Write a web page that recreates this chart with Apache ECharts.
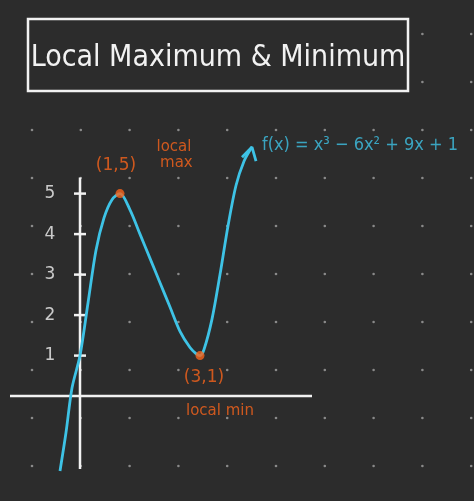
<!DOCTYPE html>
<html><head><meta charset="utf-8">
<script src="https://cdn.jsdelivr.net/npm/echarts@6/dist/echarts.min.js"></script>
<style>html,body{margin:0;background:#2c2c2c}#c{width:474px;height:501px}</style>
</head><body><div id="c"></div>
<script>
const curveX = [-0.5,-0.35,-0.2,0,0.2,0.4,0.6,0.8,1,1.25,1.5,1.75,2,2.25,2.5,2.75,2.9,3,3.1,3.3,3.5,3.7,3.9,4.1,4.3];
const curveY = [-1.85,-0.9,0.2,1,2.3,3.6,4.4,4.85,5,4.6,4.0,3.4,2.8,2.2,1.6,1.2,1.05,1,1.15,1.9,3.0,4.2,5.2,5.8,6.15];
const maxPt = [1,5];
const minPt = [3,1];
const yTicks = [1,2,3,4,5];
const title = 'Local Maximum & Minimum';
const formula = 'f(x) = x³ − 6x² + 9x + 1';

const chart = echarts.init(document.getElementById('c'));
const white = '#f2f2f2', blue = '#3ec3e6', orange = '#f7641c';
const dots = [];
for (let gx = 32; gx < 474; gx += 48.8) for (let gy = 34; gy < 501; gy += 48) dots.push({type:'circle',shape:{cx:gx,cy:gy,r:1.3},style:{fill:'#8a8a8a'},z:0});
chart.setOption({
  backgroundColor:'#2c2c2c',
  animation:false,
  grid:{left:0,right:0,top:0,bottom:0},
  xAxis:{type:'value',min:-2,max:9.85,show:false},
  yAxis:{type:'value',min:-2.59,max:9.78,show:false},
  graphic:[...dots,
    {type:'rect',shape:{x:28,y:19,width:380,height:72},style:{fill:'#2c2c2c',stroke:white,lineWidth:2.5},z:5},
    {type:'text',x:218,y:58,style:{text:title,fill:white,font:'30px "DejaVu Sans Condensed", sans-serif',align:'center',verticalAlign:'middle'},z:6}
  ],
  series:[
    {type:'line',data:[[-1.75,0],[5.8,0]],symbol:'none',lineStyle:{color:white,width:2.5},z:2},
    {type:'line',data:[[0,-1.8],[0,5.4]],symbol:'none',lineStyle:{color:white,width:2.5},z:2},
    ...yTicks.map(t=>({type:'line',data:[[-0.15,t],[0.15,t]],symbol:'none',lineStyle:{color:white,width:2.5},z:2})),
    {type:'scatter',data:yTicks.map(t=>[-0.75,t]),symbolSize:0,label:{show:true,position:'inside',formatter:p=>String(p.value[1]),color:white,fontSize:17,fontFamily:'DejaVu Sans'}},
    {type:'line',data:curveX.map((x,i)=>[x,curveY[i]]),smooth:0.3,symbol:'none',lineStyle:{color:blue,width:2.8},z:3},
    {type:'scatter',data:[maxPt],symbolSize:9,itemStyle:{color:orange},z:4,
      label:{show:true,color:orange,fontSize:17,fontFamily:'DejaVu Sans',formatter:p=>'('+p.value[0]+','+p.value[1]+')',position:'inside',offset:[-4,-28]}},
    {type:'scatter',data:[minPt],symbolSize:9,itemStyle:{color:orange},z:4,
      label:{show:true,color:orange,fontSize:17,fontFamily:'DejaVu Sans',formatter:p=>'('+p.value[0]+','+p.value[1]+')',position:'inside',offset:[4,22]}},
    {type:'scatter',data:[[1,5]],symbolSize:0,label:{show:true,position:'inside',offset:[54,-38],formatter:'local\n max',color:orange,fontSize:15,lineHeight:16,fontFamily:'DejaVu Sans'}},
    {type:'scatter',data:[[3,1]],symbolSize:0,label:{show:true,position:'inside',offset:[20,56],formatter:'local min',color:orange,fontSize:15,fontFamily:'DejaVu Sans'}},
    {type:'scatter',data:[[4.3,6.15]],symbolSize:0,label:{show:true,position:'inside',align:'left',offset:[10,-2],formatter:formula,color:blue,fontSize:18,fontFamily:'DejaVu Sans Condensed'}},
    {type:'line',data:[[4.05,5.9],[4.3,6.15],[4.4,5.8]],symbol:'none',lineStyle:{color:blue,width:2.8},z:3}
  ]
});
</script></body></html>
